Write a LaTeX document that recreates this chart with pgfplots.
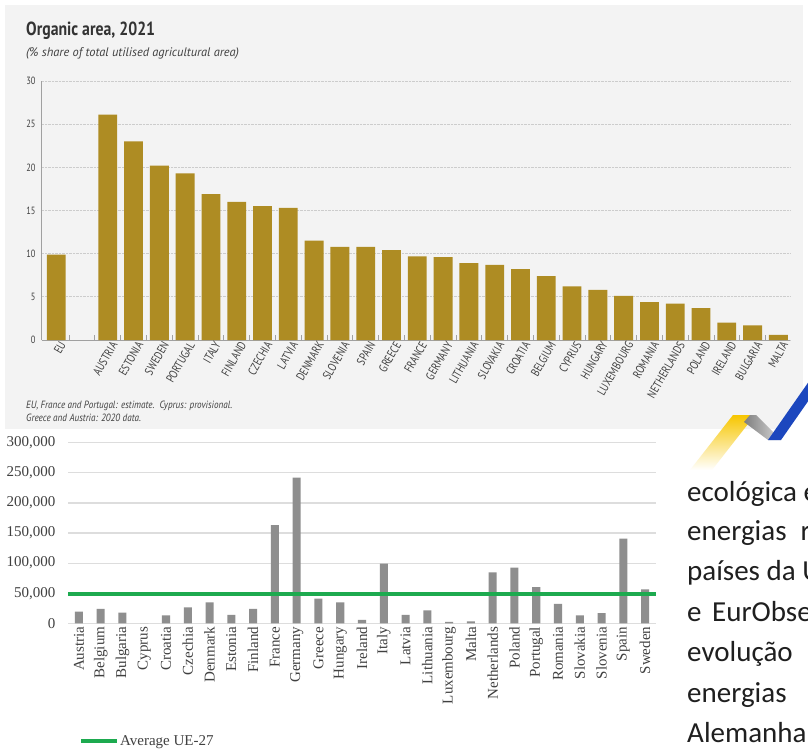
\documentclass[border=0pt]{standalone}
\usepackage{pgfplots}
\pgfplotsset{compat=1.18}
\usepackage{fontspec}
\setmainfont{Liberation Serif}
\newfontfamily\cnd[FakeStretch=0.8]{PT Sans}
\newfontfamily\cndT[FakeStretch=0.83]{PT Sans}
\newfontfamily\cndF[FakeStretch=0.87]{PT Sans}
\newfontfamily\ptsans{PT Sans}
\newfontfamily\calfont{Carlito}
\definecolor{bgtop}{HTML}{F3F3F3}
\definecolor{gold}{HTML}{AE8C23}
\definecolor{axgray}{HTML}{A0A0A0}
\definecolor{gridtop}{HTML}{CCCCCC}
\definecolor{txt}{HTML}{404040}
\definecolor{bargray}{HTML}{8E8E8E}
\definecolor{gridbot}{HTML}{DDDDDD}
\definecolor{avg}{HTML}{1DAA4F}
\definecolor{logoY}{HTML}{F7C600}
\definecolor{logoB}{HTML}{1C47BE}
\definecolor{logoG}{HTML}{B4B4B4}
\begin{document}
\begin{tikzpicture}
\useasboundingbox (0,0) rectangle (808pt,748pt);
\clip (0,0) rectangle (808pt,748pt);
\fill[white] (0,0) rectangle (808pt,748pt);
\begin{scope}[x=1pt,y=-1pt,yshift=748pt]
\fill[bgtop] (5,5) rectangle (803,429);
\node[anchor=base west, inner sep=0, text=black!80, font=\cndT\bfseries\fontsize{19}{22}\selectfont] at (26,36) {Organic area, 2021};
\node[anchor=base west, inner sep=0, text=txt, font=\ptsans\itshape\fontsize{12.4}{14}\selectfont] at (26,57) {(\% share of total utilised agricultural area)};
\node[anchor=base west, inner sep=0, text=txt, font=\cndF\itshape\fontsize{10.5}{12}\selectfont] at (26,408) {EU, France and Portugal: estimate.\ \ Cyprus: provisional.};
\node[anchor=base west, inner sep=0, text=txt, font=\cndF\itshape\fontsize{10.5}{12}\selectfont] at (26,421) {Greece and Austria: 2020 data.};
\end{scope}

\begin{axis}[
  at={(42pt,408pt)}, anchor=south west, scale only axis,
  width=748pt, height=259pt,
  xmin=-0.55, xmax=28.45, ymin=0, ymax=30,
  axis lines*=left,
  axis line style={axgray, line width=1pt},
  ytick={0,5,...,30},
  major tick length=0pt,
  ymajorgrids, grid style={gridtop, densely dotted, line width=0.8pt},
  xtick={0,2,3,...,28},
  xticklabels={EU,AUSTRIA,ESTONIA,SWEDEN,PORTUGAL,ITALY,FINLAND,CZECHIA,LATVIA,DENMARK,SLOVENIA,SPAIN,GREECE,FRANCE,GERMANY,LITHUANIA,SLOVAKIA,CROATIA,BELGIUM,CYPRUS,HUNGARY,LUXEMBOURG,ROMANIA,NETHERLANDS,POLAND,IRELAND,BULGARIA,MALTA},
  xticklabel style={rotate=60, anchor=east, font=\cnd\fontsize{12}{13}\selectfont, text=txt, inner sep=1pt, yshift=-7pt, xshift=2pt},
  yticklabel style={font=\cnd\fontsize{10.5}{12}\selectfont, text=txt, xshift=-3pt},
  extra x ticks={0.5,1.5,...,27.5},
  extra x tick style={major tick length=5pt, tick align=inside, tick style={axgray, line width=0.8pt}, xticklabel={}, grid=none},
  /pgf/number format/assume math mode=true,
  clip=false,
]
\addplot[ybar, bar width=0.73, fill=gold, draw=none] coordinates {
(0,9.9) (2,26.1) (3,23.0) (4,20.2) (5,19.3) (6,16.9) (7,16.0) (8,15.5) (9,15.3)
(10,11.5) (11,10.8) (12,10.8) (13,10.4) (14,9.7) (15,9.6) (16,8.9) (17,8.7)
(18,8.2) (19,7.4) (20,6.2) (21,5.8) (22,5.1) (23,4.4) (24,4.2) (25,3.7)
(26,2.0) (27,1.7) (28,0.6)};
\end{axis}

\begin{axis}[
  at={(68pt,124.7pt)}, anchor=south west, scale only axis,
  width=588pt, height=180.6pt,
  xmin=-0.5, xmax=26.5, ymin=0, ymax=300000,
  axis line style={draw=none},
  major tick length=0pt,
  ytick={0,50000,...,300000}, scaled y ticks=false,
  /pgf/number format/fixed,
  /pgf/number format/1000 sep={,},
  /pgf/number format/assume math mode=true,
  ymajorgrids, grid style={gridbot, line width=1.2pt},
  xtick={0,...,26},
  xticklabels={Austria,Belgium,Bulgaria,Cyprus,Croatia,Czechia,Denmark,Estonia,Finland,France,Germany,Greece,Hungary,Ireland,Italy,Latvia,Lithuania,Luxembourg,Malta,Netherlands,Poland,Portugal,Romania,Slovakia,Slovenia,Spain,Sweden},
  xticklabel style={rotate=90, anchor=east, font=\fontsize{15}{15}\selectfont, text=txt},
  yticklabel style={font=\fontsize{15}{15}\selectfont, text=txt, xshift=-9pt},
  clip=false,
  legend style={at={(0.0187,-0.652)}, anchor=west, draw=none, fill=none, inner sep=0pt,
    font=\fontsize{15}{15}\selectfont, text=txt, nodes={inner xsep=1pt}},
  legend cell align=left,
  legend image code/.code={\draw[#1] (0pt,0pt) -- (36pt,0pt);},
]
\addplot[ybar, bar width=0.37, fill=bargray, draw=none, forget plot] coordinates {
(0,19300) (1,23800) (2,17600) (3,0) (4,13300) (5,26600) (6,34900) (7,13800) (8,23800)
(9,163300) (10,241900) (11,40900) (12,34900) (13,5500) (14,99000) (15,13800)
(16,21600) (17,2200) (18,3300) (19,84700) (20,92400) (21,60300) (22,32100)
(23,13300) (24,17100) (25,140500) (26,56500)};
\addplot[avg, line width=4pt] coordinates {(-0.5,48200) (26.5,48200)};
\addlegendentry{Average UE-27}
\end{axis}

\begin{scope}[x=1pt,y=-1pt,yshift=748pt]
\fill[white] (781,440) -- (825,377) -- (830,377) -- (830,470) -- (781,470) -- cycle;
\shade[top color=logoY, middle color=logoY, bottom color=white] (733,415) -- (755,415) -- (712,470) -- (690,470) -- cycle;
\shade[left color=logoG!70!black, right color=logoG!50] (744,422) -- (750,415) -- (756,415) -- (781,440) -- (768,440) -- cycle;
\fill[logoB] (768,440) -- (812,377) -- (825,377) -- (781,440) -- cycle;
\begin{scope}[font=\calfont\fontsize{29}{35}\selectfont, text=black!88]
\node[anchor=base west, inner sep=0] at (687,501) {ecológica e};
\node[anchor=base west, inner sep=0] at (687,540) {energias\hspace{14pt}r};
\node[anchor=base west, inner sep=0] at (687,580) {países da U};
\node[anchor=base west, inner sep=0] at (687,621) {e\hspace{10.5pt}EurObse};
\node[anchor=base west, inner sep=0] at (687,661) {evolução};
\node[anchor=base west, inner sep=0] at (687,702) {energias};
\node[anchor=base west, inner sep=0] at (687,742) {Alemanha};
\end{scope}
\end{scope}
\end{tikzpicture}
\end{document}
